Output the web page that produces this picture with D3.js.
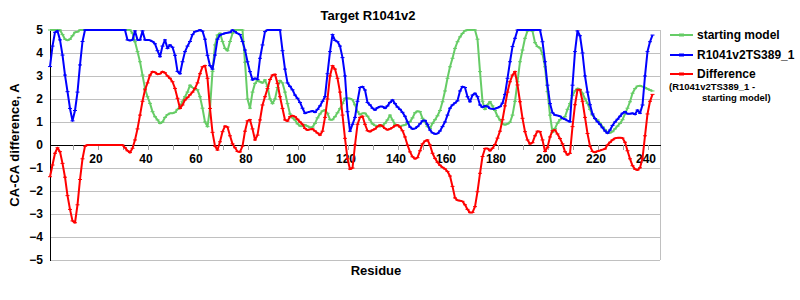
<!DOCTYPE html>
<html>
<head>
<meta charset="utf-8">
<script src="https://cdn.jsdelivr.net/npm/d3@7"></script>
<style>
  body { margin: 0; background: #fff; }
  svg text { font-family: "Liberation Sans", Arial, sans-serif; font-weight: bold; }
</style>
</head>
<body>
<div id="chart"></div>
<script>
// CA-CA difference along the chain, Target R1041v2

var width = 800,
	height = 300;

// Residue numbers (categories) and tick labels
var residues = d3.range(1, 243);
var xTickMarks = [10, 20, 30, 40, 50, 60, 70, 80, 90, 100, 110, 120, 130, 140, 150, 160, 170, 180, 190, 200, 210, 220, 230, 240];
var xTickLabels = [20, 40, 60, 80, 100, 120, 140, 160, 180, 200, 220, 240];
var yTicks = [-5, -4, -3, -2, -1, 0, 1, 2, 3, 4, 5];

// starting model (residues 1..242)
var startingModel = [
	5, 5, 5, 5, 5, 4.8, 4.6, 4.55, 4.6, 4.75, 4.9, 4.92, 5, 5, 5,
	5, 5, 5, 5, 5, 5, 5, 5, 5, 5, 5, 5, 5, 5, 5, 5, 5, 5,
	4.86, 4.49, 4.06, 3.62, 3.04, 2.46, 2.1,
	1.81, 1.45, 1.23, 1.09, 0.94, 1.0, 1.2, 1.32, 1.38, 1.38,
	1.42, 1.55, 1.67, 1.9, 2.1, 2.3, 2.6, 2.5, 2.42, 2.4,
	2.1, 1.6, 1.0, 0.8, 1.59, 3.2, 4.35, 4.78, 4.86, 4.5,
	4.2, 4.1, 4.5, 4.85, 5, 5, 5, 5, 3.6, 2.0,
	1.6, 2.3, 2.68, 2.8, 2.75, 2.7, 2.83, 2.55, 2.0, 1.8,
	2.0, 2.5, 2.8, 2.7, 2.3, 1.8, 1.35, 1.18, 1.09, 0.92,
	0.83, 0.82, 0.87, 0.82, 0.76, 0.78, 0.94, 1.18, 1.35, 1.48,
	1.52, 1.38, 1.1, 1.1, 1.23, 1.4, 1.58, 1.8, 2.03, 2.03,
	2.02, 1.97, 1.75, 1.45, 1.32, 1.38, 1.38, 1.25, 1.09, 0.92,
	0.85, 0.83, 0.8, 0.85, 0.95, 1.09, 1.3, 1.09, 0.9, 0.85,
	0.8, 0.85, 0.87, 0.95, 1.01, 1.18, 1.4, 1.47, 1.45, 1.16,
	1.0, 0.8, 0.72, 0.94, 1.1, 1.27, 1.5, 1.88, 2.35, 2.9,
	3.4, 3.77, 4.2, 4.49, 4.7, 4.85, 4.97, 5, 5, 5,
	5, 4.6, 3.19, 1.9, 1.55, 1.75, 1.88, 1.7, 1.5, 1.25,
	1.09, 0.92, 0.88, 0.92, 0.99, 1.3, 1.9, 2.75, 3.62, 4.13,
	4.64, 4.96, 5, 4.95, 4.45, 4.28, 4.22, 3.95, 3.4, 2.32,
	1.3, 0.55, 0.72, 0.95, 1.1, 1.18, 1.23, 1.55, 1.8, 2.15,
	2.35, 2.46, 2.42, 2.25, 2.0, 1.81, 1.55, 1.3, 1.15, 1.09,
	0.95, 0.8, 0.67, 0.55, 0.53, 0.58, 0.7, 0.82, 0.94, 1.1,
	1.35, 1.6, 1.88, 2.25, 2.45, 2.56, 2.58, 2.54, 2.5, 2.44,
	2.39, 2.35
];

// R1041v2TS389_1
var modelTS389 = [
	3.41, 4.3, 4.9, 4.96, 4.57, 3.91, 3.04, 2.32, 1.59, 1.05, 1.5, 2.3, 3.48, 4.5, 5,
	5, 5, 5, 5, 5, 5, 5, 5, 5, 5, 5, 5, 5, 5, 5, 5,
	4.57, 4.54, 4.57, 4.96, 4.57, 4.57, 4.96, 4.57, 4.57,
	4.55, 4.5, 4.4, 4.1, 3.84, 4.3, 4.57, 4.2, 4.35, 4.25,
	3.9, 3.2, 3.1, 3.62, 4.06, 4.3, 4.5, 4.8, 4.93, 4.96,
	5, 4.95, 4.6, 3.9, 3.45, 3.3, 3.91, 4.6, 4.78, 4.82,
	4.86, 4.88, 4.9, 5, 4.93, 4.85, 4.8, 4.5, 4.13, 3.62,
	3.19, 2.83, 2.9, 2.85, 3.77, 4.35, 4.93, 5, 5, 5,
	5, 5, 5, 4.1, 3.3, 2.7, 2.55, 2.4, 2.17, 2.03,
	1.85, 1.6, 1.38, 1.42, 1.45, 1.48, 1.42, 1.55, 1.7, 1.9,
	2.1, 3.1, 4.06, 4.8, 4.55, 4.49, 4.3, 3.8, 3.0, 1.45,
	0.6, 0.9, 1.2, 1.9, 2.5, 2.54, 2.39, 1.85, 1.74, 1.6,
	1.52, 1.62, 1.67, 1.67, 1.6, 1.7, 1.85, 1.96, 1.8, 1.65,
	1.55, 1.42, 1.25, 1.0, 0.78, 0.7, 0.72, 0.8, 0.92, 1.05,
	1.07, 0.9, 0.65, 0.53, 0.48, 0.5, 0.61, 0.8, 1.0, 1.3,
	1.6, 1.74, 1.83, 1.92, 2.35, 2.54, 2.5, 2.1, 1.88, 2.17,
	2.25, 2.1, 1.74, 1.64, 1.7, 1.68, 1.59, 1.57, 1.58, 1.62,
	1.67, 1.82, 2.2, 2.9, 3.62, 4.28, 4.64, 5, 5, 5,
	5, 5, 5, 5, 5, 5, 5, 4.49, 3.62, 2.6,
	1.8, 1.4, 1.3, 1.28, 1.25, 1.16, 1.12, 1.06, 1.01, 2.6,
	4.06, 4.96, 4.75, 4.0, 3.0, 2.3, 1.75, 1.35, 1.15, 1.01,
	0.9, 0.75, 0.61, 0.51, 0.65, 0.85, 1.0, 1.12, 1.25, 1.38,
	1.45, 1.36, 1.36, 1.38, 1.33, 1.52, 1.38, 1.74, 3.0, 4.06,
	4.49, 4.78
];

// Difference (R1041v2TS389_1 - starting model)
var difference = [
	-1.38, -0.87, -0.36, -0.12, -0.29, -0.8, -1.4, -2.2, -2.8, -3.3, -3.38, -2.6, -1.5, -0.6, -0.05,
	0, 0, 0, 0, 0, 0, 0, 0, 0, 0, 0, 0, 0, 0, 0,
	-0.12, -0.25, -0.33, -0.14, 0.22, 0.7, 1.3, 1.9, 2.4, 2.7,
	3.04, 3.19, 3.16, 3.08, 3.1, 3.19, 3.14, 3.0, 2.9, 2.75,
	2.46, 2.03, 1.59, 1.74, 1.96, 2.06, 2.18, 2.3, 2.46, 2.7,
	3.1, 3.4, 3.45, 2.9, 1.59, 0.55, -0.05, -0.22, 0.14, 0.58,
	0.82, 0.78, 0.4, 0.05, -0.12, -0.28, -0.3, -0.05, 0.6, 1.05,
	1.1, 0.7, 0.22, 0.43, 1.09, 1.74, 2.1, 2.45, 2.85, 3.04,
	3.07, 2.68, 2.1, 1.59, 1.09, 1.04, 1.23, 1.28, 1.23, 1.12,
	1.0, 0.9, 0.72, 0.65, 0.68, 0.7, 0.61, 0.52, 0.43, 0.6,
	1.2, 2.0, 3.0, 3.45, 3.3, 2.9, 2.3, 1.3, 0.29, -0.6,
	-1.05, -1.0, 0, 0.9, 1.2, 1.25, 0.9, 0.62, 0.58, 0.65,
	0.7, 0.8, 0.87, 0.82, 0.72, 0.66, 0.7, 0.76, 0.84, 0.87,
	0.78, 0.62, 0.35, 0, -0.3, -0.51, -0.6, -0.55, -0.25, 0.05,
	0.17, 0.22, 0, -0.36, -0.58, -0.75, -0.88, -0.97, -1.04, -1.15,
	-1.35, -1.8, -2.3, -2.4, -2.42, -2.45, -2.6, -2.8, -2.94, -2.93,
	-2.68, -2.03, -1.23, -0.5, -0.15, -0.15, -0.25, -0.14, 0.02, 0.3,
	0.6, 1.1, 1.7, 2.3, 2.75, 3.04, 3.19, 2.61, 1.88, 1.16,
	0.58, 0.22, 0.05, 0.1, 0.4, 0.6, 0.58, 0.22, -0.28, -0.1,
	0.35, 0.62, 0.65, 0.48, 0.28, 0.05, -0.29, -0.43, -0.36, 0.8,
	1.75, 2.4, 2.4, 1.9, 1.2, 0.5, -0.05, -0.28, -0.32, -0.27,
	-0.24, -0.2, -0.17, 0, 0.12, 0.22, 0.29, 0.31, 0.32, 0.3,
	0.12, -0.25, -0.6, -0.9, -1.05, -1.09, -0.99, -0.58, 0.4, 1.35,
	1.9, 2.2
];

var seriesNames = ["starting model", "R1041v2TS389_1", "Difference"];
var seriesColors = ["#66cc66", "#0000ff", "#ff0000"];
var seriesValues = [startingModel, modelTS389, difference];

var x = d3.scaleLinear().domain([1, 245]).range([50, 660]);
var y = d3.scaleLinear().domain([-5, 5]).range([260, 30]);

var svg = d3.select("#chart").append("svg")
	.attr("width", width)
	.attr("height", height);

// horizontal gridlines (grey), zero line drawn later as the x axis
svg.append("g").selectAll("line.grid")
	.data(yTicks.filter(function(d) { return d !== 0; }))
	.enter().append("line")
		.attr("class", "grid")
		.attr("x1", x.range()[0]).attr("x2", x.range()[1])
		.attr("y1", function(d) { return y(d); })
		.attr("y2", function(d) { return y(d); })
		.style("stroke", "#c0c0c0")
		.style("stroke-width", 1)
		.attr("shape-rendering", "crispEdges");

// right border of plot area
svg.append("line")
	.attr("x1", x.range()[1]).attr("x2", x.range()[1])
	.attr("y1", y(5)).attr("y2", y(-5))
	.style("stroke", "#c0c0c0")
	.attr("shape-rendering", "crispEdges");

// x axis crossing at 0
var xAxis = d3.axisBottom(x)
	.tickValues(xTickMarks)
	.tickSize(5)
	.tickSizeOuter(0)
	.tickPadding(4)
	.tickFormat(function(d) { return xTickLabels.indexOf(d) >= 0 ? d : ""; });

var gx = svg.append("g")
	.attr("transform", "translate(0," + y(0) + ")")
	.call(xAxis);
gx.select(".domain").style("stroke", "#000").attr("shape-rendering", "crispEdges");
gx.selectAll(".tick line").style("stroke", "#a0a0a0").attr("shape-rendering", "crispEdges");
gx.selectAll(".tick text")
	.style("font-size", "12px")
	.style("fill", "#000")
	.attr("dx", "-2px");

// y axis
var yAxis = d3.axisLeft(y)
	.tickValues(yTicks)
	.tickSize(0)
	.tickPadding(7)
	.tickFormat(d3.format("d"));

var gy = svg.append("g")
	.attr("transform", "translate(" + x.range()[0] + ",0)")
	.call(yAxis);
gy.select(".domain").style("stroke", "#000").attr("shape-rendering", "crispEdges");
gy.selectAll(".tick text")
	.style("font-size", "12px")
	.style("fill", "#000");

// lines with small dash markers
var line = d3.line()
	.x(function(d) { return x(d[0]); })
	.y(function(d) { return y(d[1]); });

seriesValues.forEach(function(vals, s) {
	var pts = residues.map(function(r, i) { return [r, vals[i]]; });
	svg.append("path")
		.datum(pts)
		.attr("d", line)
		.style("fill", "none")
		.style("stroke", seriesColors[s])
		.style("stroke-width", 2)
		.style("stroke-linejoin", "round");
	svg.append("g").selectAll("rect")
		.data(pts)
		.enter().append("rect")
			.attr("x", function(d) { return x(d[0]) - 2; })
			.attr("y", function(d) { return y(d[1]) - 0.5; })
			.attr("width", 4)
			.attr("height", 1)
			.style("fill", seriesColors[s]);
});

// title and axis titles
svg.append("text")
	.attr("x", 368).attr("y", 20)
	.attr("text-anchor", "middle")
	.style("font-size", "13px")
	.text("Target R1041v2");

svg.append("text")
	.attr("transform", "translate(19,145) rotate(-90)")
	.attr("text-anchor", "middle")
	.style("font-size", "13px")
	.text("CA-CA difference, A");

svg.append("text")
	.attr("x", 376).attr("y", 275)
	.attr("text-anchor", "middle")
	.style("font-size", "13px")
	.text("Residue");

// legend
var legendY = [35, 55, 74];
var legend = svg.append("g");
seriesNames.forEach(function(name, s) {
	legend.append("line")
		.attr("x1", 670).attr("x2", 693)
		.attr("y1", legendY[s]).attr("y2", legendY[s])
		.style("stroke", seriesColors[s])
		.style("stroke-width", 2);
	legend.append("rect")
		.attr("x", 679).attr("y", legendY[s] - 1.5)
		.attr("width", 5).attr("height", 3)
		.style("fill", seriesColors[s]);
	legend.append("text")
		.attr("x", 697).attr("y", legendY[s])
		.attr("dy", "0.35em")
		.style("font-size", "12px")
		.text(name);
});
legend.append("text")
	.attr("x", 669).attr("y", 87)
	.attr("dy", "0.35em")
	.style("font-size", "9.5px")
	.text("(R1041v2TS389_1 -");
legend.append("text")
	.attr("x", 702).attr("y", 98)
	.attr("dy", "0.35em")
	.style("font-size", "9.5px")
	.text("starting model)");
</script>
</body>
</html>
